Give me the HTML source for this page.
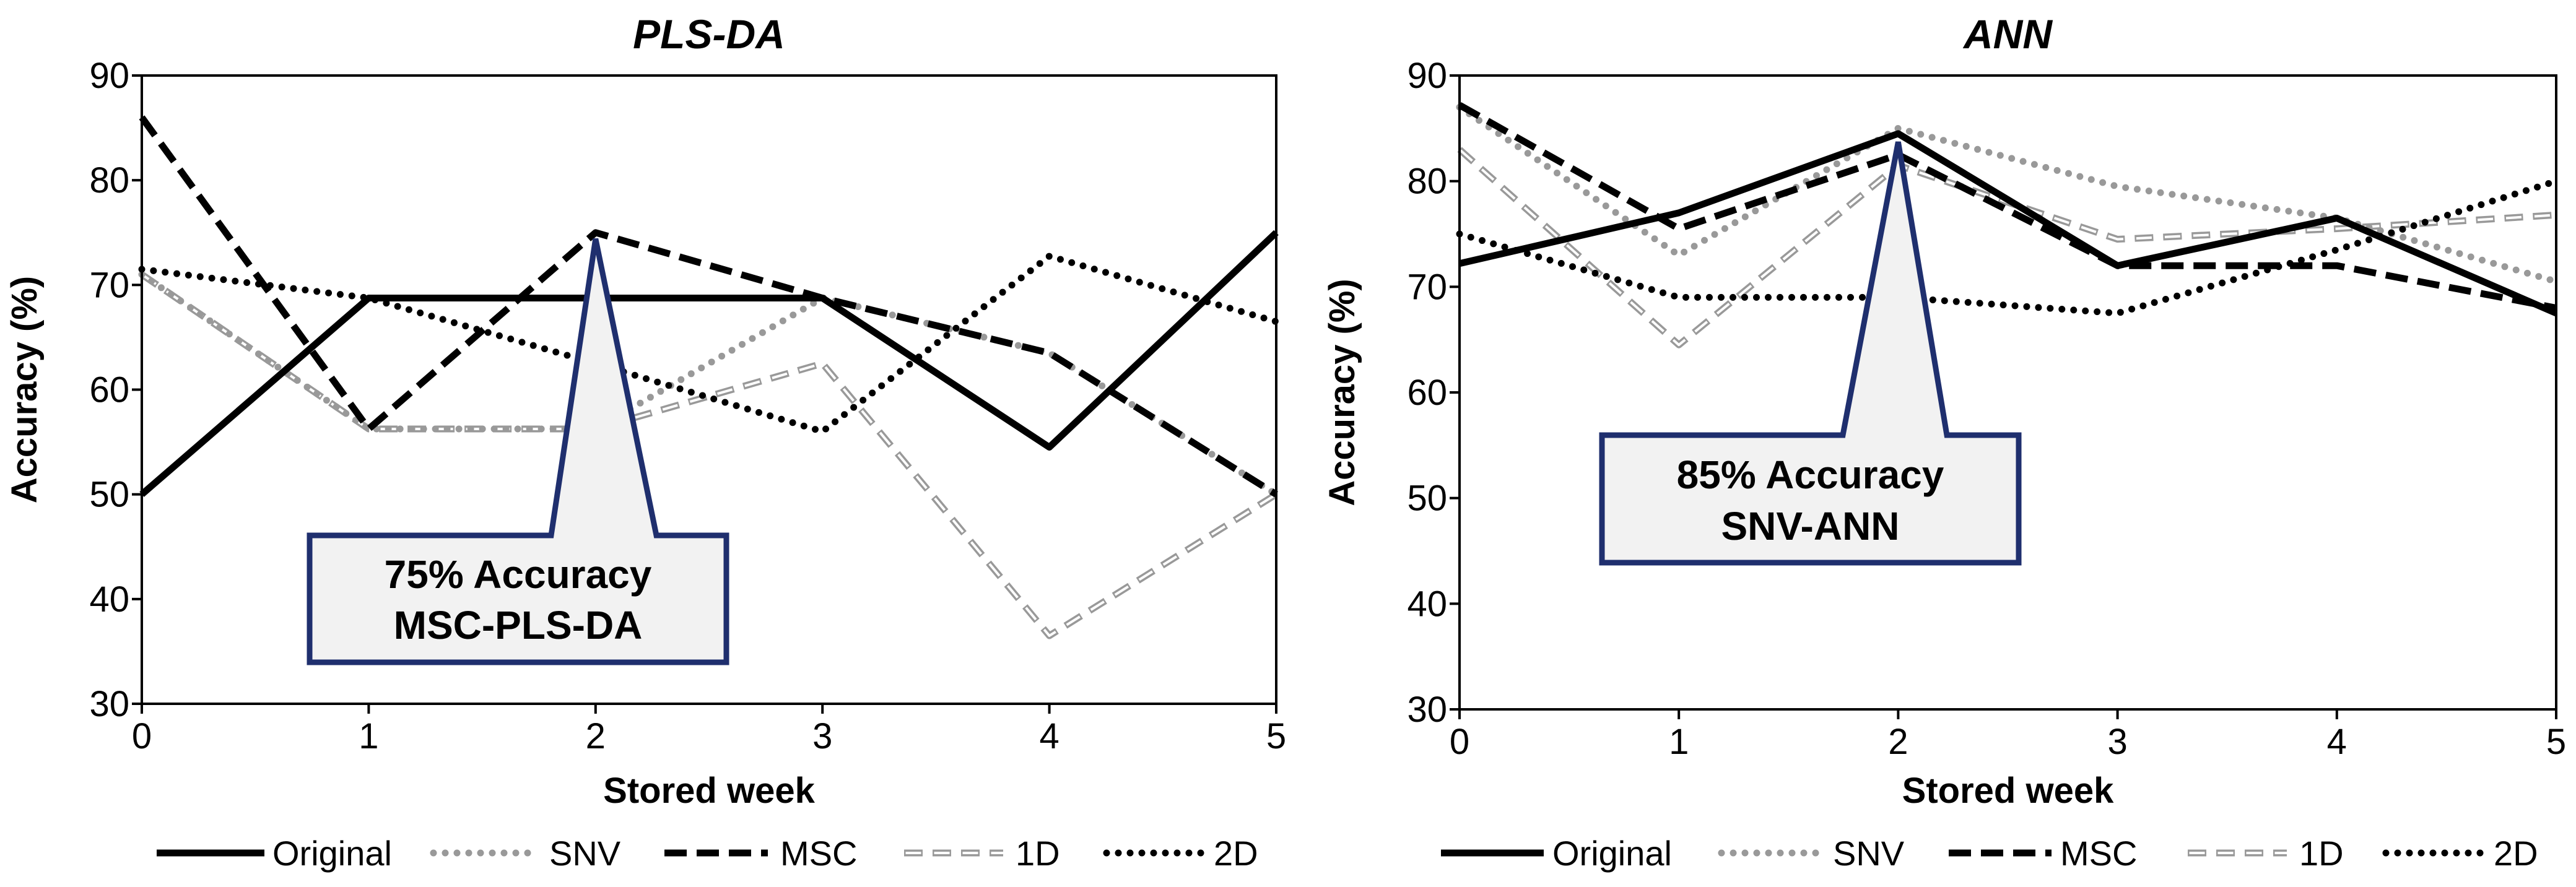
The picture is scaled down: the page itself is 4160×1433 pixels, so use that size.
<!DOCTYPE html>
<html><head><meta charset="utf-8"><style>
html,body{margin:0;padding:0;background:#fff}
svg{display:block}
text{font-family:"Liberation Sans Narrow","Liberation Sans",sans-serif}
</style></head><body>
<svg id="c" width="4160" height="1433" viewBox="0 0 4160 1433" xmlns="http://www.w3.org/2000/svg"></svg>
<script>
const weeks=[0,1,2,3,4,5];
const yTicks=[30,40,50,60,70,80,90];
const seriesNames=["Original","SNV","MSC","1D","2D"];
const plsOriginal=[50,68.75,68.75,68.75,54.5,75];
const plsSNV=[71,56.25,56.25,68.75,63.5,50];
const plsMSC=[86,56.25,75,68.75,63.5,50];
const pls1D=[71,56.25,56.25,62.5,36.5,50];
const pls2D=[71.5,68.75,62.5,56,72.75,66.5];
const annOriginal=[72.2,77,84.5,72,76.5,67.5];
const annSNV=[87,73,85,79.5,76.5,70.5];
const annMSC=[87.2,75.5,82.5,72,72,68];
const ann1D=[83,64.5,81.5,74.5,75.5,76.8];
const ann2D=[75,69,69,67.5,73.5,80];
const plsPeak=75, annPeak=85;

const NS="http://www.w3.org/2000/svg";
const svg=document.getElementById('c');
function mk(tag,attrs,parent){const e=document.createElementNS(NS,tag);for(const k in attrs)e.setAttribute(k,attrs[k]);(parent||svg).appendChild(e);return e;}
function txt(s,attrs,parent){const e=mk('text',attrs,parent);e.textContent=s;return e;}

const styles={
 "Original":[{stroke:"#000","stroke-width":11}],
 "SNV":[{stroke:"#999","stroke-width":11,"stroke-dasharray":"0 19","stroke-linecap":"round"}],
 "MSC":[{stroke:"#000","stroke-width":11,"stroke-dasharray":"36 16"}],
 "1D":[{stroke:"#999","stroke-width":11,"stroke-dasharray":"30 16"},{stroke:"#fff","stroke-width":4,"stroke-dasharray":"25 21","stroke-dashoffset":"-2.5"}],
 "2D":[{stroke:"#000","stroke-width":11,"stroke-dasharray":"0 19","stroke-linecap":"round"}]
};

function chart(cfg){
 const g=mk('g',{});
 
 
 const X=v=>cfg.x0+(v-0)/(5-0)*(cfg.x1-cfg.x0);
 const Y=v=>cfg.y1-(v-30)/(90-30)*(cfg.y1-cfg.y0);
 const t=txt(cfg.title,{x:(cfg.x0+cfg.x1)/2,y:78,"text-anchor":"middle","font-size":66,"font-weight":"bold","font-style":"italic","font-family":"Liberation Sans, sans-serif"},g);
 
 
 const order=["1D","SNV","2D","MSC","Original"];
 order.forEach(n=>{
  const vals=cfg.data[n];
  const pts=weeks.map((w,i)=>X(w)+","+Y(vals[i])).join(" ");
  styles[n].forEach(st=>{
   const p=mk('polyline',Object.assign({points:pts,fill:"none","stroke-linejoin":"round"},st),g);
   
   
  });
 });
 const fr=mk('rect',{x:cfg.x0,y:cfg.y0,width:cfg.x1-cfg.x0,height:cfg.y1-cfg.y0,fill:"none",stroke:"#000","stroke-width":4},g);
 
 
 yTicks.forEach(v=>{
  mk('line',{x1:cfg.x0-16,x2:cfg.x0,y1:Y(v),y2:Y(v),stroke:"#000","stroke-width":4},g);
  const l=txt(String(v),{x:cfg.x0-20,y:Y(v)+20,"text-anchor":"end","font-size":58,fill:"#000"},g);
  
  
 });
 weeks.forEach(w=>{
  mk('line',{x1:X(w),x2:X(w),y1:cfg.y1,y2:cfg.y1+16,stroke:"#000","stroke-width":4},g);
  const l=txt(String(w),{x:X(w),y:cfg.y1+72,"text-anchor":"middle","font-size":58,fill:"#000"},g);
  
  
 });
 const xt=txt("Stored week",{x:(cfg.x0+cfg.x1)/2,y:1297,"text-anchor":"middle","font-size":58,"font-weight":"bold"},g);
 
 
 const ycx=cfg.x0-170, ycy=(cfg.y0+cfg.y1)/2;
 const yt=txt("Accuracy (%)",{x:ycx,y:ycy,"text-anchor":"middle","font-size":58,"font-weight":"bold","font-family":"Liberation Sans, sans-serif",transform:`rotate(-90 ${ycx} ${ycy})`},g);
 
 
 const c=cfg.callout, ay=Y(cfg.peak)+cfg.apexOff;
 const ax=X(2);
 const d=`M${c.x0},${c.y0} L${c.b0},${c.y0} L${ax},${ay} L${c.b1},${c.y0} L${c.x1},${c.y0} L${c.x1},${c.y1} L${c.x0},${c.y1} Z`;
 const cp=mk('path',{d:d,fill:"#f2f2f2",stroke:"#1f2f6e","stroke-width":9,"stroke-linejoin":"miter"},g);
 
 
 const cm=(c.x0+c.x1)/2;
 const t1=txt(c.l1,{x:cm,y:c.t1,"text-anchor":"middle","font-size":64,"font-weight":"bold"},g);
 
 
 const t2=txt(c.l2,{x:cm,y:c.t2,"text-anchor":"middle","font-size":64,"font-weight":"bold"},g);
 
 
 seriesNames.forEach((n,i)=>{
  const L=cfg.legend[i];
  styles[n].forEach(st=>{
   const ln=mk('line',Object.assign({x1:L[0],x2:L[1],y1:1378,y2:1378},st),g);
   
   
  });
  const lt=txt(n,{x:L[2],y:1398,"font-size":56},g);
  
  
 });
}

chart({id:"pls",title:"PLS-DA",x0:229,x1:2061,y0:122,y1:1137,peak:plsPeak,apexOff:10,
 data:{"Original":plsOriginal,"SNV":plsSNV,"MSC":plsMSC,"1D":pls1D,"2D":pls2D},
 callout:{x0:500,x1:1173,y0:865,y1:1070,b0:890,b1:1060,l1:"75% Accuracy",l2:"MSC-PLS-DA",t1:950,t2:1032},
 legend:[[253,427,440],[700,867,887],[1073,1240,1260],[1460,1620,1640],[1787,1947,1960]]});
chart({id:"ann",title:"ANN",x0:2357,x1:4128,y0:122,y1:1146,peak:annPeak,apexOff:22,
 data:{"Original":annOriginal,"SNV":annSNV,"MSC":annMSC,"1D":ann1D,"2D":ann2D},
 callout:{x0:2587,x1:3260,y0:703,y1:909,b0:2976,b1:3144,l1:"85% Accuracy",l2:"SNV-ANN",t1:789,t2:872},
 legend:[[2327,2493,2507],[2780,2940,2960],[3147,3313,3327],[3533,3693,3713],[3853,4013,4027]]});
</script>
</body></html>
